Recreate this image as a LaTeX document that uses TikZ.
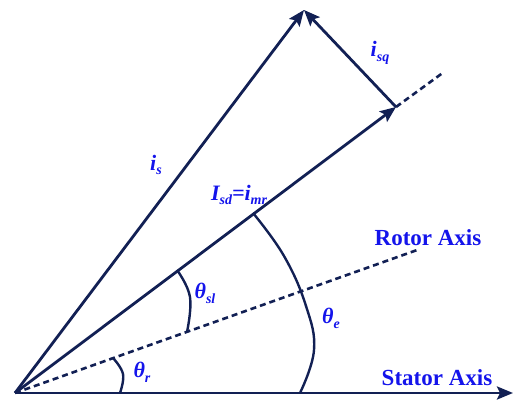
\documentclass[tikz,border=0pt]{standalone}
\usepackage{fontspec}
\setmainfont{Liberation Serif}
\usetikzlibrary{arrows.meta}
\definecolor{linecol}{RGB}{18,32,84}
\definecolor{textcol}{RGB}{20,20,235}
\newcommand{\lsub}[1]{\raisebox{-0.22em}{\fontsize{14}{14}\selectfont #1}}
\tikzset{
  vec/.style={draw=linecol, line width=2.8pt, -{Stealth[length=16pt,width=13pt,inset=3pt]}},
  axisline/.style={draw=linecol, line width=2.8pt},
  dashline/.style={draw=linecol, line width=2.6pt, dash pattern=on 6pt off 4pt},
  anglearc/.style={draw=linecol, line width=2.4pt},
  lbl/.style={text=textcol, font=\fontsize{22}{22}\selectfont\bfseries\itshape, inner sep=0pt},
  axislbl/.style={text=textcol, font=\fontsize{23}{23}\selectfont\bfseries, inner sep=0pt}
}
\begin{document}
\begin{tikzpicture}[x=1pt,y=1pt]
\useasboundingbox (0,0) rectangle (515,401);
\coordinate (O) at (15,8);
\coordinate (S) at (513,8);
\coordinate (R) at (420,152);
\coordinate (D) at (396,294);
\coordinate (E) at (444,329);
\coordinate (T) at (304,391);
% axes
\draw[axisline, -{Stealth[length=16pt,width=13pt,inset=3pt]}] (O) -- (S);
\draw[dashline] (O) -- (R);
\draw[dashline] (D) -- (E);
% vectors
\draw[vec] (O) -- (D);
\draw[vec] (O) -- (T);
\draw[vec] (D) -- (T);
% angle arcs
\draw[anglearc] plot[smooth, tension=0.7] coordinates {(113,43) (123,27) (120,8)};
\draw[anglearc] plot[smooth, tension=0.7] coordinates {(177,131) (190,104) (187,69)};
\draw[anglearc] plot[smooth, tension=0.7] coordinates {(253,188) (284,145) (306,95) (314,51) (300,8)};
% labels
\node[lbl] (is) at (156,236) {i\lsub{s}};
\node[lbl] (isq) at (380,348) {i\lsub{sq}};
\node[lbl] (isd) at (239,206) {I\lsub{sd}=i\lsub{mr}};
\node[lbl] (tr) at (142,29) {θ\lsub{r}};
\node[lbl] (tsl) at (205,108) {θ\lsub{sl}};
\node[lbl] (te) at (331,83) {θ\lsub{e}};
\node[axislbl] (rot) at (428,163) {Rotor Axis};
\node[axislbl] (sta) at (437,23) {Stator Axis};
\end{tikzpicture}
\end{document}
